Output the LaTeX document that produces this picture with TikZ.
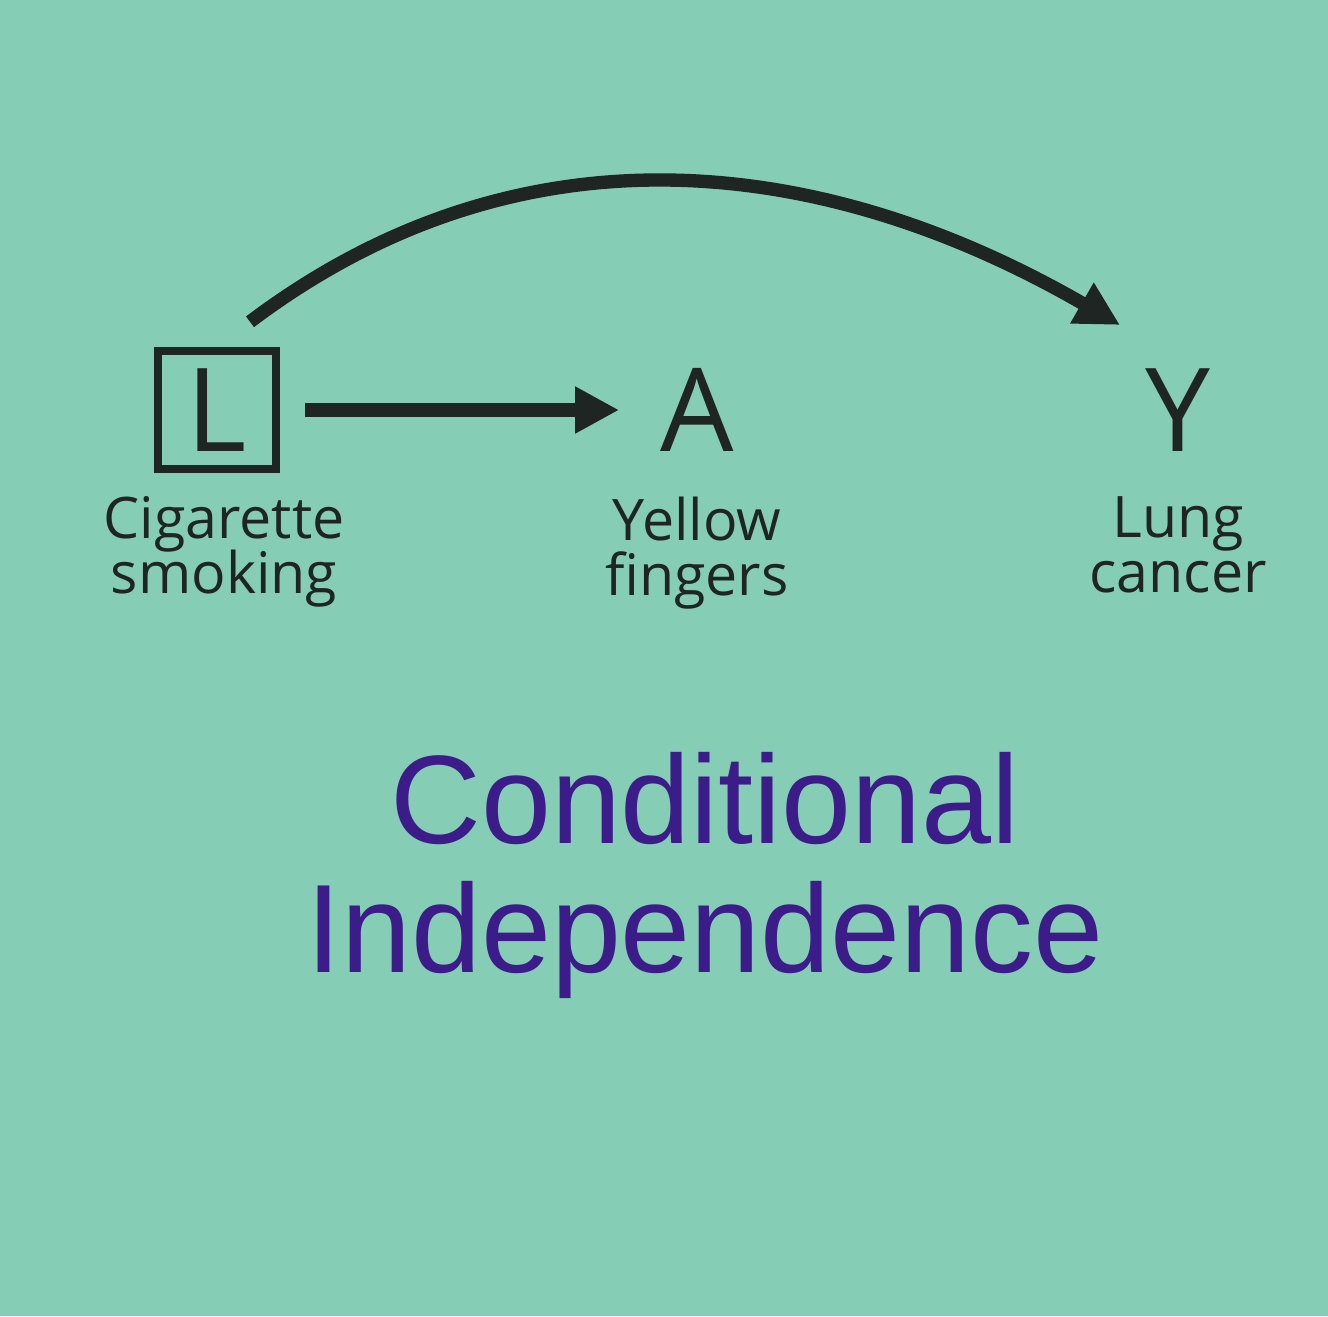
\documentclass[tikz,border=0pt]{standalone}
\usepackage{fontspec}
\usepackage{tikz}
\usetikzlibrary{positioning,arrows.meta}
\newfontfamily\labelfont{Open Sans}
\newfontfamily\titlefont{Liberation Sans}
\newcommand\labelsize{\fontsize{16.3}{15.6}\selectfont\lineskiplimit-20pt\relax}
\definecolor{slidebg}{HTML}{85CDB5}
\definecolor{ink}{HTML}{1F2523}
\definecolor{titlepurple}{HTML}{3C1C88}

\begin{document}
\begin{tikzpicture}[
  var/.style={font=\labelfont\fontsize{33}{36}\selectfont,text=ink,inner sep=0pt},
  boxed/.style={var,draw=ink,line width=2.4pt,minimum size=11.8mm},
  edge/.style={-{Triangle[length=4.4mm,width=4.4mm]},draw=ink,line width=3.8pt},
  lab/.style={font=\labelfont\labelsize,text=ink,align=center,inner sep=0pt},
  heading/.style={font=\titlefont\fontsize{35.8}{36.7}\selectfont,text=titlepurple,align=center,inner sep=0pt}
]
\fill[slidebg] (0,0) rectangle (13.28,-13.16);
\useasboundingbox (0,0) rectangle (13.28,-13.16);

\node[boxed] (L) at (2.17,-4.10) {L};
\node[var] (A) at (6.97,-4.10) {A};
\node[var] (Y) at (11.78,-4.10) {Y};

\node[lab,anchor=north] (smoking) at (2.24,-4.96) {Cigarette\\smoking};
\node[lab,anchor=north] (fingers) at (A |- smoking.north) {Yellow\\fingers};
\node[lab,anchor=north] (cancer) at (Y |- smoking.north) {Lung\\cancer};

\node[heading,below=1.42cm of fingers,xshift=0.08cm] (title) {Conditional\\Independence};

\draw[edge,shorten <=2.5mm,shorten >=4.05mm] (L) -- (A);
\draw[edge] ([shift={(0.33,0.25)}]L.north) to[out=37,in=150] ([shift={(-0.58,0.85)}]Y.center);
\end{tikzpicture}
\end{document}
